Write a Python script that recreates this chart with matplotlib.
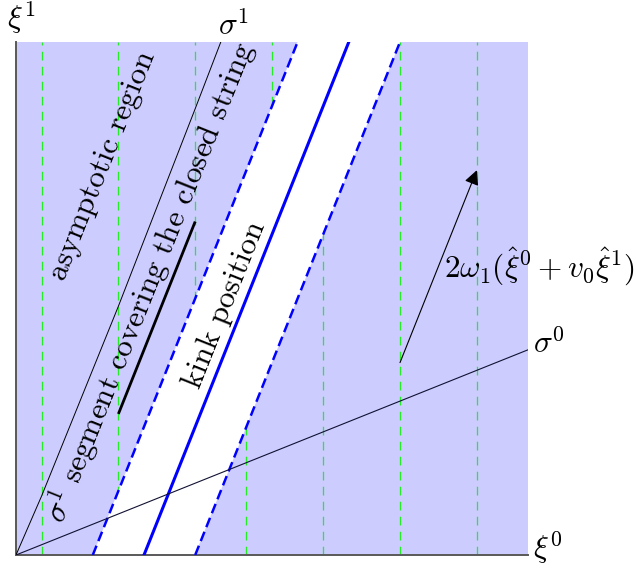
import numpy as np
import matplotlib
matplotlib.use("Agg")
import matplotlib.pyplot as plt
from matplotlib.patches import Polygon

plt.rcParams['mathtext.fontset'] = 'cm'
plt.rcParams['font.family'] = ['cmr10', 'DejaVu Serif']
plt.rcParams['axes.unicode_minus'] = False

# ---- data (diagram coordinates) ----
slope = 2.5                      # slope of the kink band / sigma^1 direction
band_left_x0 = 1.5               # left dashed boundary, intercept on xi^0 axis
kink_x0 = 2.5                    # kink position, intercept
band_right_x0 = 3.5              # right dashed boundary, intercept
extent = 10.0
left_grid_x = [0.5, 2.0, 3.5, 5.0]
right_grid_x = [4.5, 6.0, 7.5, 9.0]
sigma1_x = [0.0, 0.5, 2.0, 3.5, 4.0]
sigma1_y = [0.0, 1.15, 4.85, 8.7, 10.0]
sigma0_end = (10.0, 4.0)
segment_x = [2.0, 3.5]
segment_y = [2.75, 6.5]
arrow_start = (7.5, 3.75)
arrow_end = (9.0, 7.5)

W, H = 636, 572
fig = plt.figure(figsize=(W / 100, H / 100), dpi=100)
ax = fig.add_axes([16 / W, (H - 555) / H, 512 / W, 513 / H])
ax.set_xlim(0, extent)
ax.set_ylim(0, extent)
ax.axis('off')

fill_c = '#ccccff'
top_left = band_left_x0 + extent / slope
top_right = band_right_x0 + extent / slope
left_poly = Polygon([(0, 0), (band_left_x0, 0), (top_left, extent), (0, extent)],
                    closed=True, facecolor=fill_c, edgecolor='none', zorder=1)
right_poly = Polygon([(band_right_x0, 0), (extent, 0), (extent, extent), (top_right, extent)],
                     closed=True, facecolor=fill_c, edgecolor='none', zorder=1)
ax.add_patch(left_poly)
ax.add_patch(right_poly)

green = '#22ee22'
for gx in left_grid_x:
    ln, = ax.plot([gx, gx], [0, extent], color=green, lw=0.9,
                  linestyle=(0, (7, 5)), zorder=2)
    ln.set_clip_path(left_poly)
for gx in right_grid_x:
    ln, = ax.plot([gx, gx], [0, extent], color=green, lw=0.9,
                  linestyle=(0, (7, 5)), zorder=2)
    ln.set_clip_path(right_poly)

# axes
ax.plot([0, extent], [0, 0], color='0.35', lw=1.4, zorder=3, clip_on=False)
ax.plot([0, 0], [0, extent], color='0.35', lw=1.4, zorder=3, clip_on=False)

# band lines
ax.plot([band_left_x0, top_left], [0, extent], color='blue', lw=1.8,
        linestyle=(0, (4, 2)), zorder=4)
ax.plot([band_right_x0, top_right], [0, extent], color='blue', lw=1.8,
        linestyle=(0, (4, 2)), zorder=4)
ax.plot([kink_x0, kink_x0 + extent / slope], [0, extent], color='blue', lw=2.2, zorder=4)

# sigma lines
ax.plot(sigma1_x, sigma1_y, color='black', lw=0.7, zorder=5)
ax.plot([0, sigma0_end[0]], [0, sigma0_end[1]], color='#111133', lw=0.8, zorder=5)

# thick segment
ax.plot(segment_x, segment_y, color='black', lw=2.0, zorder=5, solid_capstyle='butt')

# arrow
ax.annotate('', xy=arrow_end, xytext=arrow_start,
            arrowprops=dict(arrowstyle='-|>', mutation_scale=22, lw=0.8,
                            color='black', shrinkA=0, shrinkB=0), zorder=6)

fs = 22.5
ang = np.degrees(np.arctan(slope))
ax.text(0.1, 10.1, r'$\xi^1$', fontsize=fs, ha='center', va='bottom')
ax.text(3.95, 10.0, r'$\sigma^1$', fontsize=fs, ha='left', va='bottom')
ax.text(10.1, 0.12, r'$\xi^0$', fontsize=fs, ha='left', va='center')
ax.text(10.1, 4.1, r'$\sigma^0$', fontsize=fs, ha='left', va='center')
mx = (arrow_start[0] + arrow_end[0]) / 2
my = (arrow_start[1] + arrow_end[1]) / 2
ax.text(mx + 0.1, my, r'$2\omega_1(\hat{\xi}^0+v_0\hat{\xi}^1)$', fontsize=fs,
        ha='left', va='center')

ax.text(1.68, 7.6, 'asymptotic region', fontsize=fs, rotation=ang,
        rotation_mode='anchor', ha='center', va='center')
ax.text(2.62, 5.31, r'$\sigma^1$ segment covering the closed string', fontsize=fs,
        rotation=ang, rotation_mode='anchor', ha='center', va='center')
ax.text(4.08, 4.88, 'kink position', fontsize=fs, rotation=ang,
        rotation_mode='anchor', ha='center', va='center')

fig.savefig('out.png', dpi=100)
